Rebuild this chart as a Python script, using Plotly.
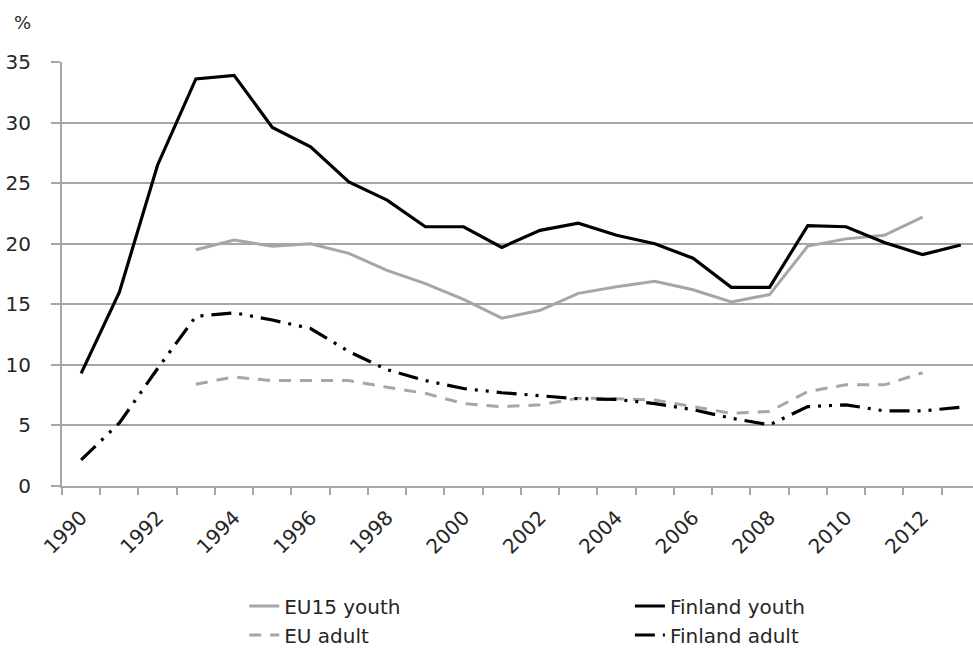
import plotly.graph_objects as go

# Unemployment rates, %, by year
years = list(range(1990, 2014))

finland_youth = [9.3, 16.0, 26.5, 33.6, 33.9, 29.6, 28.0, 25.1, 23.6, 21.4, 21.4, 19.7,
                 21.1, 21.7, 20.7, 20.0, 18.8, 16.4, 16.4, 21.5, 21.4, 20.1, 19.1, 19.9]
eu15_youth = [None, None, None, 19.5, 20.3, 19.8, 20.0, 19.2, 17.8, 16.7, 15.4, 13.85,
              14.5, 15.9, 16.45, 16.9, 16.2, 15.2, 15.8, 19.8, 20.4, 20.7, 22.2, None]
eu_adult = [None, None, None, 8.4, 9.0, 8.7, 8.7, 8.7, 8.15, 7.65, 6.8, 6.55,
            6.7, 7.25, 7.2, 7.1, 6.55, 6.0, 6.15, 7.8, 8.35, 8.35, 9.35, None]
finland_adult = [2.15, 5.2, 9.7, 14.0, 14.3, 13.7, 13.0, 11.1, 9.6, 8.7, 8.05, 7.7,
                 7.45, 7.2, 7.15, 6.8, 6.3, 5.6, 5.05, 6.55, 6.7, 6.2, 6.2, 6.5]

y_ticks = [0, 5, 10, 15, 20, 25, 30, 35]
x_label_years = list(range(1990, 2013, 2))

GRID = "#a6a6a6"
FONT = "DejaVu Sans"
TEXT = "#262626"

fig = go.Figure()

fig.add_trace(go.Scatter(
    x=years, y=eu15_youth, name="EU15 youth", mode="lines",
    line=dict(color="#a6a6a6", width=3), legend="legend", legendgroup="a"))
fig.add_trace(go.Scatter(
    x=years, y=eu_adult, name="EU adult", mode="lines",
    line=dict(color="#a6a6a6", width=3, dash="12px,9px"), legend="legend", legendgroup="b"))
fig.add_trace(go.Scatter(
    x=years, y=finland_youth, name="Finland youth", mode="lines",
    line=dict(color="#000000", width=3.2), legend="legend2", legendgroup="c"))
fig.add_trace(go.Scatter(
    x=years, y=finland_adult, name="Finland adult", mode="lines",
    line=dict(color="#000000", width=3.2, dash="20px,8px,3px,8px,3px,8px"),
    legend="legend2", legendgroup="d"))

legend_common = dict(
    orientation="v", yanchor="top", y=-0.237, xanchor="left",
    font=dict(family=FONT, size=20, color=TEXT),
    bgcolor="rgba(0,0,0,0)", tracegroupgap=0, itemwidth=30,
)

fig.update_layout(
    width=973, height=649,
    margin=dict(l=62, r=0, t=62, b=163, autoexpand=False),
    paper_bgcolor="white", plot_bgcolor="white",
    font=dict(family=FONT, size=20, color=TEXT),
    showlegend=True,
    legend=dict(x=0.2, **legend_common),
    legend2=dict(x=0.6234, **legend_common),
    xaxis=dict(
        range=[1989.5, 2013.32],
        tickmode="array", tickvals=x_label_years, ticktext=[str(v) for v in x_label_years],
        tickangle=-45, ticks="", ticklabelstandoff=10,
        showgrid=False, zeroline=False, automargin=False,
        showline=True, linecolor=GRID, linewidth=2,
        minor=dict(tick0=1989.5, dtick=1, ticks="outside", ticklen=7,
                   tickcolor=GRID, tickwidth=2, showgrid=False),
        tickfont=dict(family=FONT, size=20, color=TEXT),
    ),
    yaxis=dict(
        range=[0, 35], tickmode="array", tickvals=y_ticks,
        ticks="outside", ticklen=9, tickcolor=GRID, tickwidth=2,
        ticklabelstandoff=16, automargin=False,
        showgrid=True, gridcolor=GRID, gridwidth=2,
        zeroline=False, showline=True, linecolor=GRID, linewidth=2,
        tickfont=dict(family=FONT, size=20, color=TEXT),
    ),
    annotations=[dict(
        text="%", xref="paper", yref="paper", x=-0.055, y=1.094,
        xanchor="left", yanchor="middle", showarrow=False,
        font=dict(family=FONT, size=18, color=TEXT),
    )],
)

fig.write_html("out.html")
